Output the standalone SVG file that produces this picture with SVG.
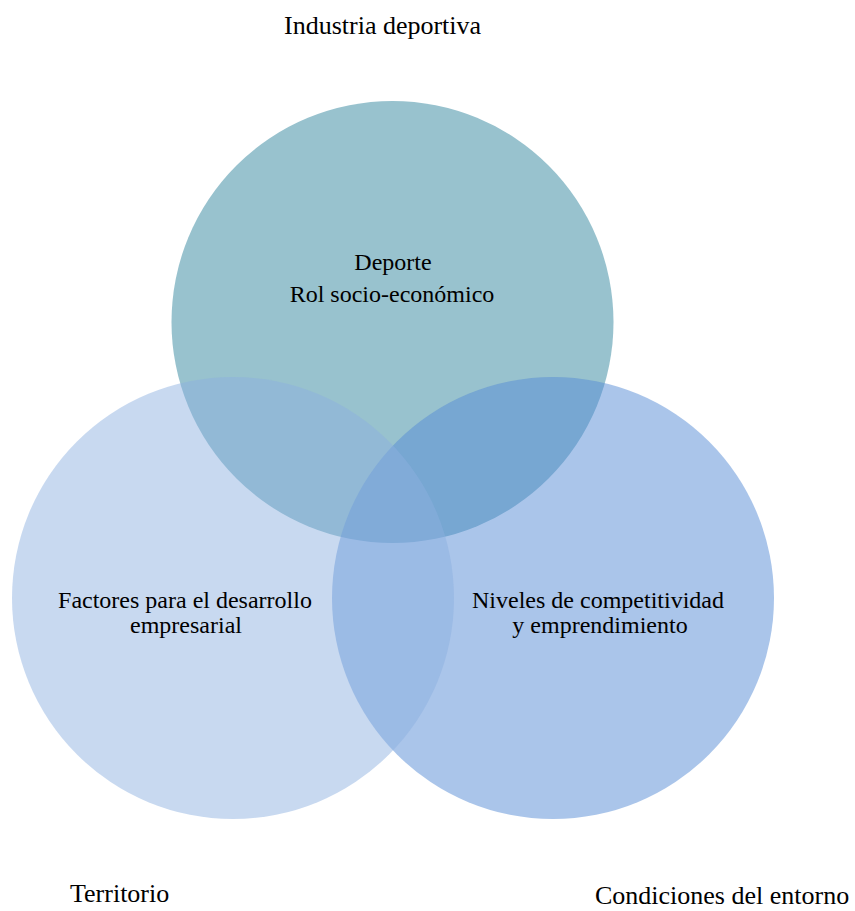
<svg xmlns="http://www.w3.org/2000/svg" width="855" height="911" viewBox="0 0 855 911">
  <style>
    .lbl { font-family: "Liberation Serif", "Times New Roman", serif; fill: #000; }
    .outer { font-size: 26px; }
    .inner { font-size: 24px; text-anchor: middle; }
  </style>
  <rect width="855" height="911" fill="#ffffff"/>

  <!-- Venn sets: top set opaque, lower sets translucent -->
  <g id="set-deporte">
    <circle cx="392.5" cy="322" r="221" fill="#98c2ce"/>
  </g>
  <g id="set-competitividad">
    <circle cx="553" cy="598" r="221" fill="#558bd5" fill-opacity="0.5"/>
  </g>
  <g id="set-factores">
    <circle cx="233" cy="598" r="221" fill="#8cb0e0" fill-opacity="0.48"/>
  </g>

  <!-- labels inside the sets -->
  <g id="label-deporte">
    <text class="lbl inner" x="393" y="270">Deporte</text>
    <text class="lbl inner" x="392" y="302">Rol socio-económico</text>
  </g>
  <g id="label-factores">
    <text class="lbl inner" x="185" y="608">Factores para el desarrollo</text>
    <text class="lbl inner" x="186" y="633">empresarial</text>
  </g>
  <g id="label-competitividad">
    <text class="lbl inner" x="598" y="608">Niveles de competitividad</text>
    <text class="lbl inner" x="600" y="633">y emprendimiento</text>
  </g>

  <!-- outer headings -->
  <g id="heading-industria">
    <text class="lbl outer" x="284" y="34">Industria deportiva</text>
  </g>
  <g id="heading-territorio">
    <text class="lbl outer" x="70" y="902">Territorio</text>
  </g>
  <g id="heading-condiciones">
    <text class="lbl outer" x="595" y="904">Condiciones del entorno</text>
  </g>

  <g id="connectors"></g>
</svg>
